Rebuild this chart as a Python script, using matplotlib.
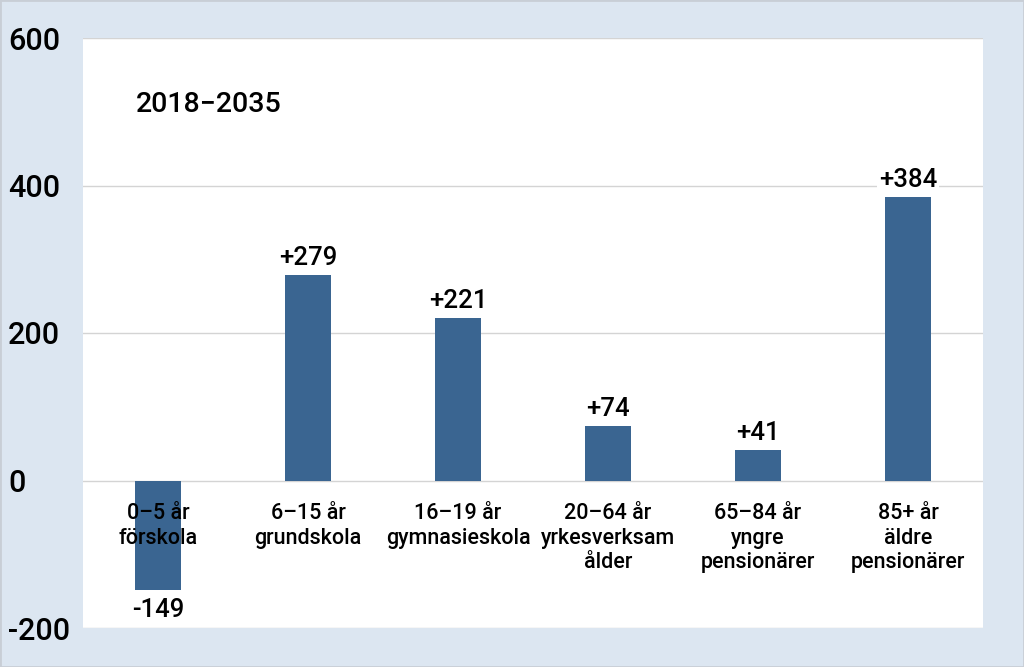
import matplotlib
matplotlib.use("Agg")
import matplotlib.pyplot as plt

categories = ["0\u20135 år\nförskola", "6\u201315 år\ngrundskola", "16\u201319 år\ngymnasieskola",
              "20\u201364 år\nyrkesverksam\nålder", "65\u201384 år\nyngre\npensionärer",
              "85+ år\näldre\npensionärer"]
values = [-149, 279, 221, 74, 41, 384]
labels = ["-149", "+279", "+221", "+74", "+41", "+384"]
yticks = [-200, 0, 200, 400, 600]
period = "2018\u22122035"

bg = "#DCE6F1"
bar_color = "#3A6591"
plt.rcParams['font.family'] = ['Roboto', 'DejaVu Sans']
W = 'medium'

fig = plt.figure(figsize=(10.24, 6.67), dpi=100, facecolor=bg)
ax = fig.add_axes([83/1024, 1 - 628/667, 900/1024, 590/667])
ax.set_facecolor("white")
x = list(range(len(values)))
ax.bar(x, values, width=0.31, color=bar_color, zorder=2)
ax.set_xlim(-0.5, len(values) - 0.5)
ax.set_ylim(-200, 600)
ax.set_yticks(yticks)
ax.set_yticklabels([str(t) for t in yticks], fontsize=22, ha='left', fontweight=W)
ax.tick_params(axis='y', length=0, pad=54)
ax.set_xticks([])
ax.grid(axis='y', color="#D4D4D4", linewidth=1, zorder=0)
for s in ax.spines.values():
    s.set_visible(False)

for xi, v, lab in zip(x, values, labels):
    off = 23 if v >= 0 else -27
    ax.text(xi, v + off, lab, ha='center', va='center', fontsize=18.5, zorder=3,
            fontweight=W, bbox=dict(facecolor='white', edgecolor='none', pad=1.5))
    ax.text(xi, -31, categories[xi], ha='center', va='top', fontsize=15.5,
            linespacing=1.2, zorder=3, fontweight=W)

ax.text(0.059, (510 + 200) / 800, period, transform=ax.transAxes, fontsize=20.5,
        va='center', ha='left', fontweight=W)

fig.patches.append(plt.Rectangle((0, 0), 1, 1, transform=fig.transFigure, fill=False,
                                 edgecolor="#C8CED6", linewidth=2))
fig.savefig("out.png", dpi=100, facecolor=bg)
